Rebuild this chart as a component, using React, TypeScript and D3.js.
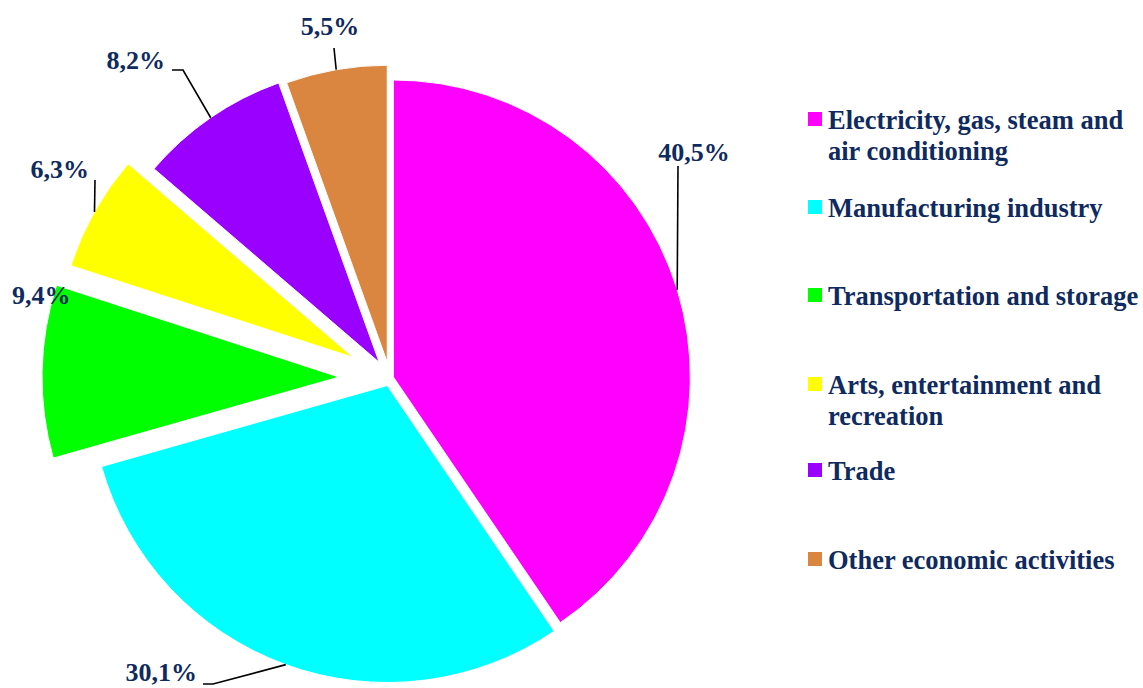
import React from "react";
import * as d3 from "d3";

const categories: string[][] = [
  ["Electricity, gas, steam and", "air conditioning"],
  ["Manufacturing industry"],
  ["Transportation and storage"],
  ["Arts, entertainment and", "recreation"],
  ["Trade"],
  ["Other economic activities"],
];
const values: number[] = [40.5, 30.1, 9.4, 6.3, 8.2, 5.5];
const valueLabels: string[] = ["40,5%", "30,1%", "9,4%", "6,3%", "8,2%", "5,5%"];
const colors: string[] = ["#FF00FF", "#00FFFF", "#00FF00", "#FFFF00", "#9900FF", "#DA8640"];

// layout
const W = 1143;
const H = 688;
const CX = 390;
const CY = 378;
const R = 297;
const explode = [3.5, 8, 51, 42, 19, 16];
// label text anchor positions and leader elbow points (layout)
const labelLayout = [
  { x: 694, y: 161, anchor: "middle", elbow: [[678, 166]] },
  { x: 197, y: 681, anchor: "end", elbow: [[203, 684], [213, 684]] },
  { x: 12, y: 304, anchor: "start", elbow: null },
  { x: 89, y: 178, anchor: "end", elbow: [[95, 180]] },
  { x: 165, y: 69, anchor: "end", elbow: [[172, 70], [183, 70]] },
  { x: 330, y: 35, anchor: "middle", elbow: [[334, 48]] },
];
const legendX = 808;
const legendMarkerCenters = [119, 207, 295, 384, 470, 559];

const TEXT_COLOR = "#0F2A5E";
const FONT = "'Liberation Serif', 'Times New Roman', serif";

export default function App() {
  const pie = d3
    .pie<number>()
    .sort(null)
    .startAngle(0)
    .endAngle(2 * Math.PI)
    .value((d) => d);
  const arcs = pie(values);
  const arcGen = d3.arc<d3.PieArcDatum<number>>().innerRadius(0).outerRadius(R);

  return (
    <div style={{ position: "fixed", left: 0, top: 0, width: W, height: H, background: "#fff" }}>
      <svg width={W} height={H} style={{ display: "block" }}>
        {arcs.map((a, i) => {
          const mid = (a.startAngle + a.endAngle) / 2;
          const dx = explode[i] * Math.sin(mid);
          const dy = -explode[i] * Math.cos(mid);
          return (
            <path
              key={i}
              d={arcGen(a) || ""}
              transform={`translate(${CX + dx},${CY + dy})`}
              fill={colors[i]}
              stroke="#fff"
              strokeWidth={1}
            />
          );
        })}
        {arcs.map((a, i) => {
          const mid = (a.startAngle + a.endAngle) / 2;
          const dx = explode[i] * Math.sin(mid);
          const dy = -explode[i] * Math.cos(mid);
          const px = CX + dx + R * Math.sin(mid);
          const py = CY + dy - R * Math.cos(mid);
          const L = labelLayout[i];
          const pts: number[][] = L.elbow ? [...L.elbow, [px, py]] : [];
          return (
            <g key={"l" + i}>
              {pts.length > 0 && (
                <polyline
                  points={pts.map((p) => p.join(",")).join(" ")}
                  fill="none"
                  stroke="#000"
                  strokeWidth={1.6}
                />
              )}
              <text
                x={L.x}
                y={L.y}
                textAnchor={L.anchor as any}
                fontFamily={FONT}
                fontWeight="bold"
                fontSize={26}
                fill={TEXT_COLOR}
              >
                {valueLabels[i]}
              </text>
            </g>
          );
        })}
        {categories.map((lines, i) => {
          const cy = legendMarkerCenters[i];
          return (
            <g key={"lg" + i}>
              <rect x={legendX} y={cy - 7} width={14} height={14} fill={colors[i]} />
              <text fontFamily={FONT} fontWeight="bold" fontSize={26.5} fill={TEXT_COLOR}>
                {lines.map((t, j) => (
                  <tspan key={j} x={legendX + 20} y={cy + 10 + j * 31}>
                    {t}
                  </tspan>
                ))}
              </text>
            </g>
          );
        })}
      </svg>
    </div>
  );
}
